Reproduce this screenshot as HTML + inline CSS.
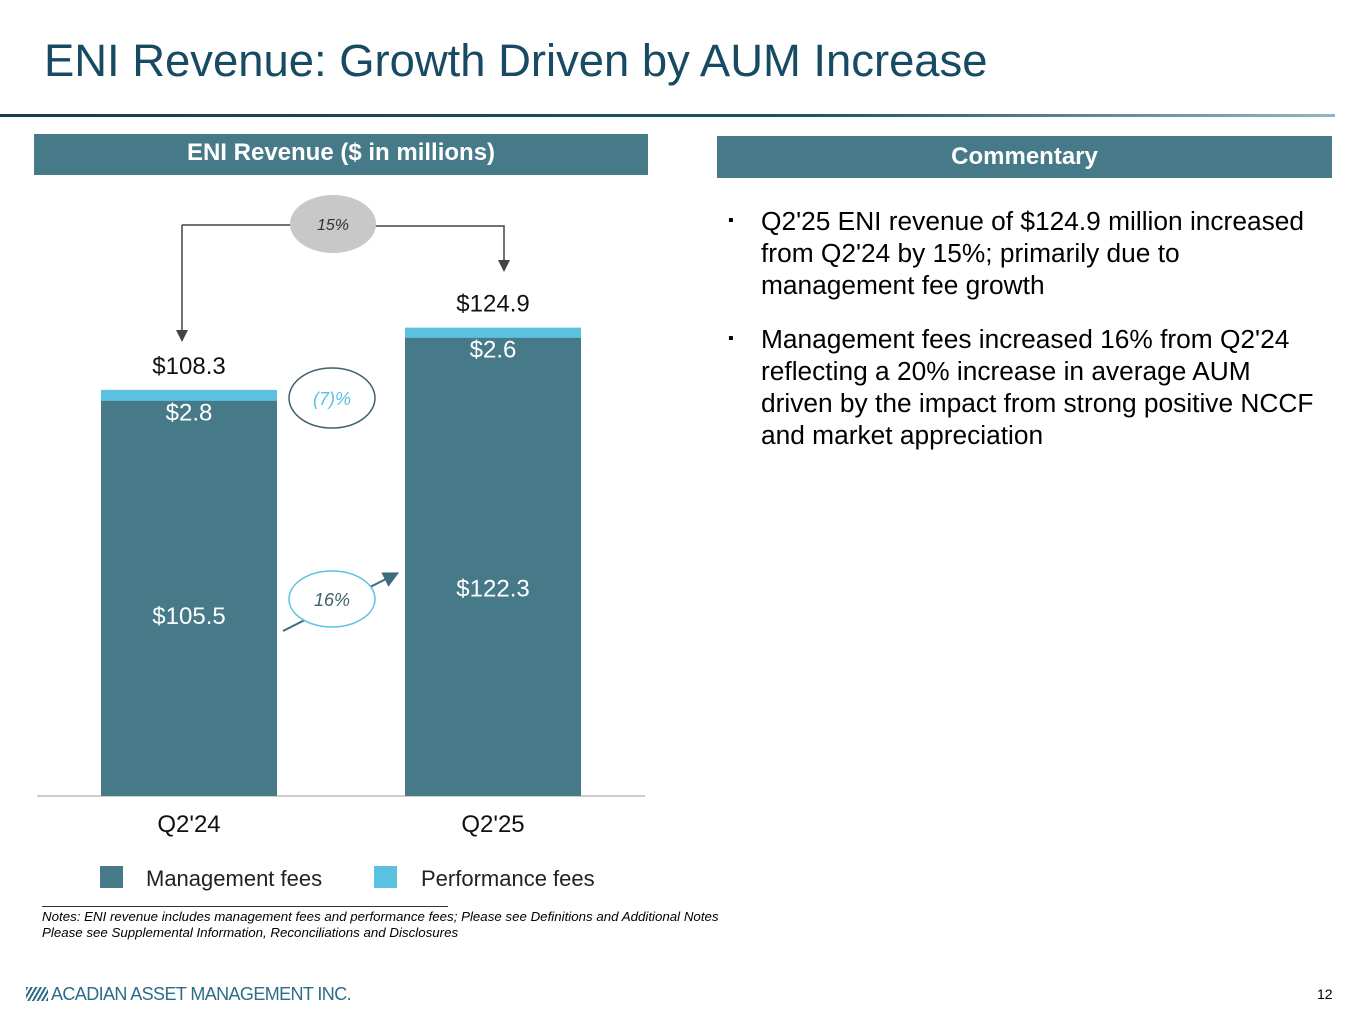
<!DOCTYPE html>
<html><head><meta charset="utf-8">
<style>
body{margin:0;width:1365px;height:1024px;background:#fff;font-family:"Liberation Sans",Arial,sans-serif;position:relative;overflow:hidden}
.abs{position:absolute}
</style></head><body>
<div class="abs" style="left:44px;top:35px;font-size:45.4px;color:#174a63;">ENI Revenue: Growth Driven by AUM Increase</div>
<div class="abs" style="left:0;top:114px;width:1335px;height:3px;background:linear-gradient(90deg,#143e52 0%,#1f5068 60%,#8fb7c6 100%)"></div>
<div class="abs" style="left:34px;top:134px;width:614px;height:41px;background:#477a89;color:#fff;font-weight:bold;font-size:24px;text-align:center;line-height:38px">ENI Revenue ($ in millions)</div>
<div class="abs" style="left:717px;top:136px;width:615px;height:42px;background:#477a89;color:#fff;font-weight:bold;font-size:24px;text-align:center;line-height:42px">Commentary</div>
<div class="abs" style="left:728px;top:205px;width:620px;font-size:26.3px;line-height:32px;color:#000;white-space:nowrap">
<div style="position:relative;padding-left:33px;margin-bottom:22px"><span style="position:absolute;left:0;font-size:16px">▪</span>Q2'25 ENI revenue of $124.9 million increased<br>from Q2'24 by 15%; primarily due to<br>management fee growth</div>
<div style="position:relative;padding-left:33px"><span style="position:absolute;left:0;font-size:16px">▪</span>Management fees increased 16% from Q2'24<br>reflecting a 20% increase in average AUM<br>driven by the impact from strong positive NCCF<br>and market appreciation</div>
</div>
<svg class="abs" style="left:0;top:0" width="1365" height="1024" id="chart">
<defs><marker id="ah" markerWidth="8" markerHeight="8" refX="4" refY="4" orient="auto"><path d="M0,0L8,4L0,8z" fill="#444"/></marker>
<marker id="ah2" markerWidth="8" markerHeight="8" refX="4" refY="4" orient="auto"><path d="M0,0L8,4L0,8z" fill="#3d6c7e"/></marker></defs>
<line x1="37" y1="796" x2="645" y2="796" stroke="#bbb" stroke-width="1.5"/>
<polyline points="182,225 292,225" fill="none" stroke="#444" stroke-width="1.5"/>
<line x1="182" y1="225" x2="182" y2="336" stroke="#444" stroke-width="1.5" marker-end="url(#ah)"/>
<polyline points="374,226 504,226 504,266" fill="none" stroke="#444" stroke-width="1.5" marker-end="url(#ah)"/>
<ellipse cx="333" cy="224" rx="43" ry="29" fill="#c8c8c8"/>
<text x="333" y="230" text-anchor="middle" font-size="16" font-style="italic" fill="#333">15%</text>
<ellipse cx="332" cy="398" rx="43" ry="30" fill="#fff" stroke="#3f5f6a" stroke-width="1.5"/>
<text x="332" y="405" text-anchor="middle" font-size="18" font-style="italic" fill="#5bc1e0">(7)%</text>
<line x1="283" y1="631" x2="392" y2="576" stroke="#3d6c7e" stroke-width="2" marker-end="url(#ah2)"/>
<ellipse cx="332" cy="599" rx="43" ry="28" fill="#fff" stroke="#5bc1e0" stroke-width="1.5"/>
<text x="332" y="606" text-anchor="middle" font-size="18" font-style="italic" fill="#3f5f6a">16%</text>
<g id="bars"></g>
</svg>
<div class="abs" style="left:100px;top:866px;font-size:22px;color:#222">
<span style="position:absolute;left:0;top:0;width:23px;height:22px;background:#477a89"></span>
<span style="position:absolute;left:46px;top:0;white-space:nowrap">Management fees</span>
<span style="position:absolute;left:274px;top:0;width:23px;height:22px;background:#5bc1e0"></span>
<span style="position:absolute;left:321px;top:0;white-space:nowrap">Performance fees</span>
</div>
<div class="abs" style="left:42px;top:906px;width:406px;height:1px;background:#333"></div>
<div class="abs" style="left:42px;top:909px;font-size:13.3px;font-style:italic;line-height:16px;color:#000;white-space:nowrap">Notes: ENI revenue includes management fees and performance fees; Please see Definitions and Additional Notes<br>Please see Supplemental Information, Reconciliations and Disclosures</div>
<div class="abs" style="left:26px;top:984px;font-size:18px;color:#2d6c8a;letter-spacing:-0.6px;white-space:nowrap"><span style="display:inline-block;width:22px;height:14px;margin-right:3px;background:repeating-linear-gradient(120deg,#2d6c8a 0 2px,#fff 2px 4px);vertical-align:-1px"></span>ACADIAN ASSET MANAGEMENT INC.</div>
<div class="abs" style="left:1317px;top:986px;font-size:14px">12</div>
<script>
const categories=["Q2'24","Q2'25"];
const mgmtFees=[105.5,122.3];
const perfFees=[2.8,2.6];
const totals=[108.3,124.9];
const base=796, k=3.75, bw=176, x0=101, step=304;
const y=v=>base-v*k;
const g=document.getElementById('bars');
const ns='http://www.w3.org/2000/svg';
function mk(tag,attrs,txt){const e=document.createElementNS(ns,tag);for(const a in attrs)e.setAttribute(a,attrs[a]);if(txt!==undefined)e.textContent=txt;g.appendChild(e);return e;}
categories.forEach((c,i)=>{
 const x=x0+i*step, cx=x+bw/2;
 const m=mk('rect',{x:x,y:y(mgmtFees[i]),width:bw,height:mgmtFees[i]*k,fill:'#477a89'});
 
 
 const p=mk('rect',{x:x,y:y(mgmtFees[i]+perfFees[i]),width:bw,height:perfFees[i]*k+0.5,fill:'#5bc1e0'});
 
 
 mk('text',{x:cx,y:y(mgmtFees[i])+(base-y(mgmtFees[i]))*0.565,'text-anchor':'middle','font-size':24,fill:'#fff'},'$'+mgmtFees[i].toFixed(1));
 mk('text',{x:cx,y:y(mgmtFees[i])+20,'text-anchor':'middle','font-size':24,fill:'#fff'},'$'+perfFees[i].toFixed(1));
 mk('text',{x:cx,y:y(totals[i])-16,'text-anchor':'middle','font-size':24,fill:'#111'},'$'+totals[i].toFixed(1));
 mk('text',{x:cx,y:832,'text-anchor':'middle','font-size':24,fill:'#111'},c);
});
</script>
</body></html>
